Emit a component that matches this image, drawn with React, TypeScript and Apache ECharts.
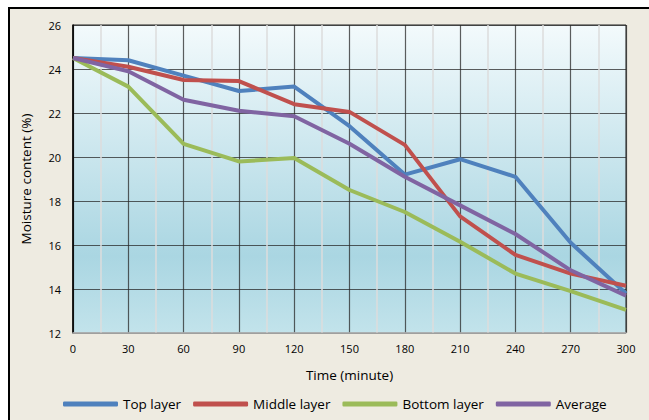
import React, { useEffect, useRef } from "react";
import * as echarts from "echarts";

const times = [0, 30, 60, 90, 120, 150, 180, 210, 240, 270, 300];
const topLayer = [24.5, 24.4, 23.7, 23.0, 23.2, 21.4, 19.2, 19.9, 19.1, 16.1, 13.8];
const middleLayer = [24.5, 24.1, 23.5, 23.45, 22.4, 22.05, 20.55, 17.3, 15.55, 14.7, 14.15];
const bottomLayer = [24.5, 23.2, 20.6, 19.8, 19.95, 18.5, 17.5, 16.15, 14.7, 13.9, 13.05];
const average = [24.5, 23.9, 22.6, 22.1, 21.85, 20.6, 19.1, 17.8, 16.5, 14.85, 13.7];

const seriesDefs = [
  { name: "Top layer", data: topLayer, color: "#4F81BD" },
  { name: "Middle layer", data: middleLayer, color: "#C0504D" },
  { name: "Bottom layer", data: bottomLayer, color: "#9BBB59" },
  { name: "Average", data: average, color: "#8064A2" },
];

const FONT = "Open Sans";

export default function App() {
  const ref = useRef<HTMLDivElement>(null);
  useEffect(() => {
    const chart = echarts.init(ref.current!, null, { renderer: "svg" });
    chart.setOption({
      animation: false,
      backgroundColor: "#ffffff",
      graphic: [
        {
          type: "rect",
          z: -10,
          silent: true,
          shape: { x: 9, y: 8, width: 660, height: 430 },
          style: { fill: "#EEEBE1", stroke: "#000", lineWidth: 2 },
        },
      ],
      grid: {
        left: 73,
        top: 25,
        right: 23,
        bottom: 87,
        show: true,
        borderColor: "#222",
        borderWidth: 1,
        backgroundColor: new echarts.graphic.LinearGradient(0, 0, 0, 1, [
          { offset: 0, color: "#F3FAFC" },
          { offset: 0.75, color: "#AAD6E2" },
          { offset: 1, color: "#C2E3EB" },
        ]),
      },
      legend: {
        left: 63,
        top: 397,
        padding: 0,
        icon: "roundRect",
        itemWidth: 55,
        itemHeight: 5,
        itemGap: 12,
        textStyle: { fontFamily: FONT, fontSize: 13.5, color: "#000" },
        data: seriesDefs.map((s) => s.name),
      },
      xAxis: {
        type: "value",
        min: 0,
        max: 300,
        interval: 30,
        name: "Time (minute)",
        nameLocation: "middle",
        nameGap: 35,
        nameTextStyle: { fontFamily: FONT, fontSize: 13.5, color: "#000" },
        axisLine: { show: true, lineStyle: { color: "#BFBFBF", width: 1.5 } },
        axisTick: { show: false },
        axisLabel: { fontFamily: FONT, fontSize: 11, color: "#000", margin: 10 },
        splitLine: { show: true, lineStyle: { color: "rgba(40,40,40,0.75)", width: 1.2 } },
        minorTick: { show: false, splitNumber: 2 },
        minorSplitLine: { show: true, lineStyle: { color: "#DCDCDC", width: 1.5 } },
      },
      yAxis: {
        type: "value",
        min: 12,
        max: 26,
        interval: 2,
        name: "Moisture content (%)",
        nameLocation: "middle",
        nameGap: 40,
        nameTextStyle: { fontFamily: FONT, fontSize: 13.5, color: "#000" },
        axisLine: { show: true, lineStyle: { color: "#000", width: 1.5 } },
        axisTick: { show: false },
        axisLabel: { fontFamily: FONT, fontSize: 11, color: "#000", margin: 12 },
        splitLine: { show: true, lineStyle: { color: "rgba(40,40,40,0.75)", width: 1.2 } },
      },
      series: seriesDefs.map((s) => ({
        name: s.name,
        type: "line",
        data: times.map((t, i) => [t, s.data[i]]),
        symbol: "none",
        lineStyle: { color: s.color, width: 4 },
        itemStyle: { color: s.color },
      })),
    });
    return () => chart.dispose();
  }, []);
  return (
    <div
      ref={ref}
      style={{ position: "absolute", left: 0, top: 0, width: 649, height: 420 }}
    />
  );
}
